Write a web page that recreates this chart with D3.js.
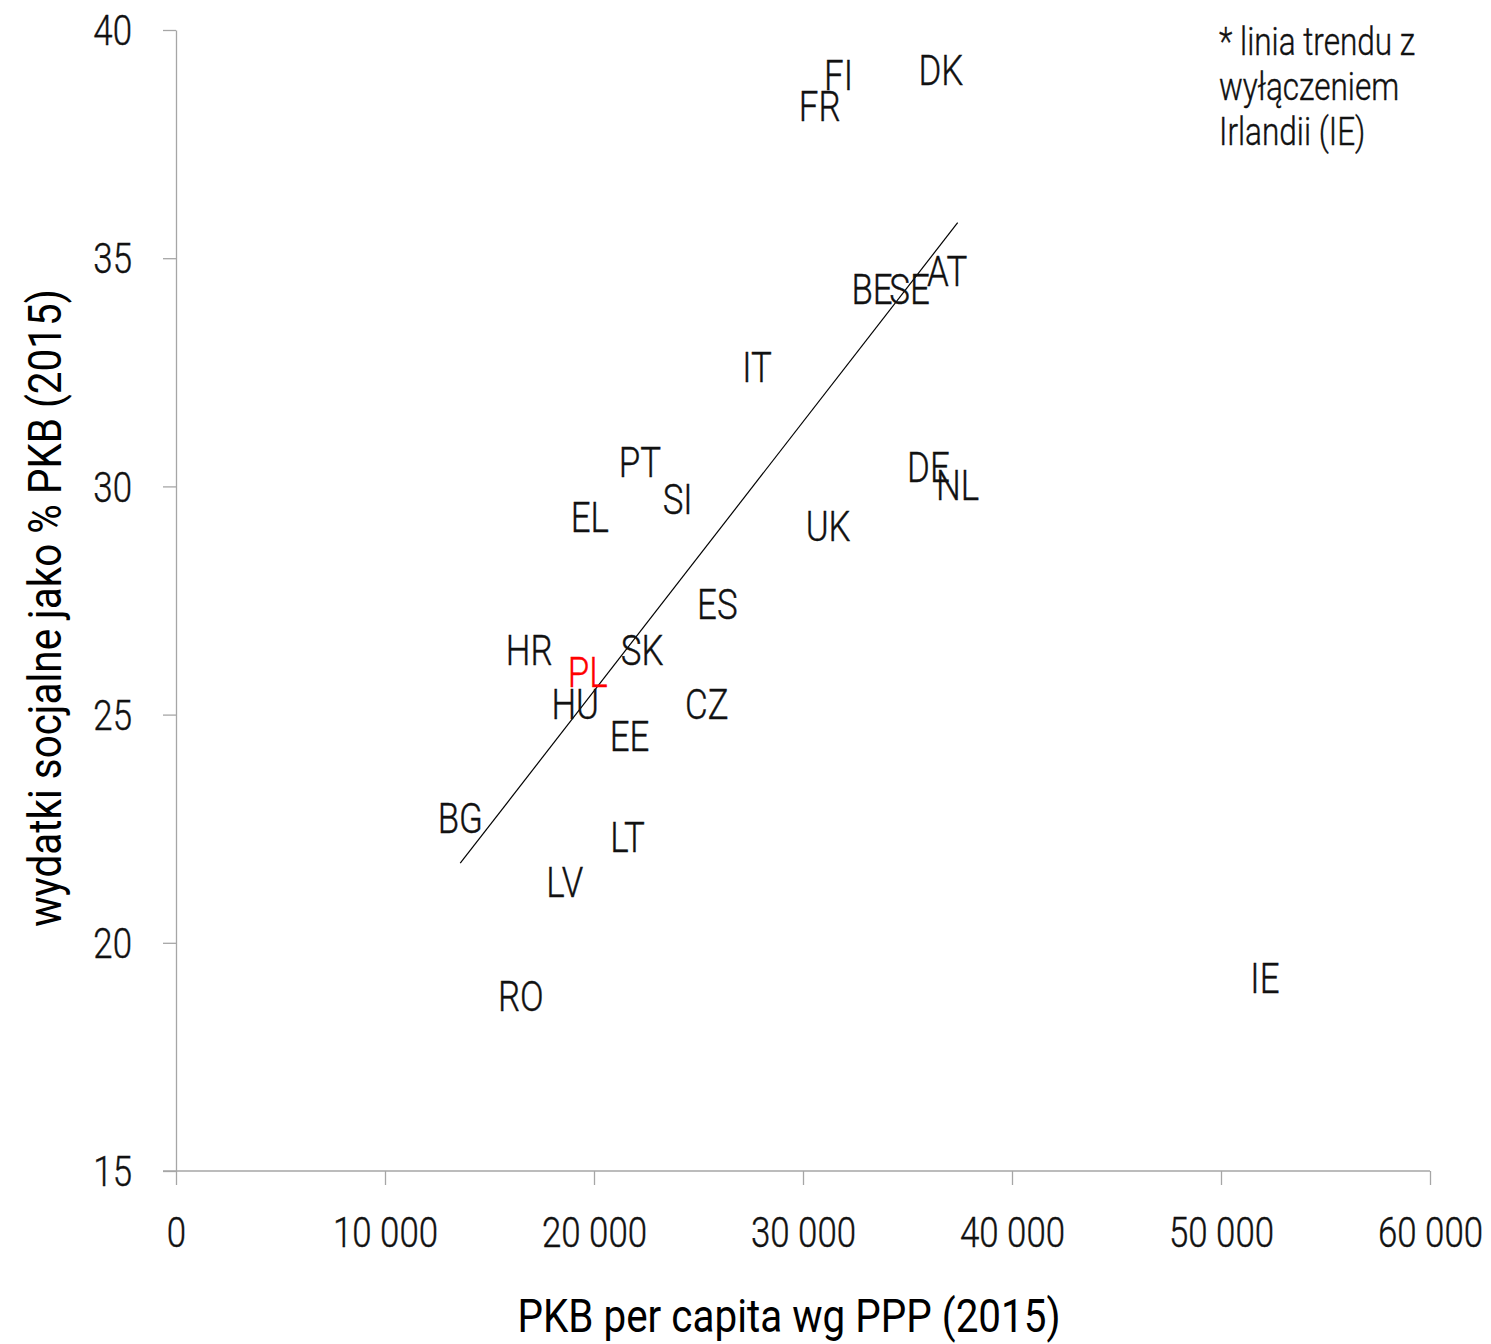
<!DOCTYPE html>
<html>
<head>
<meta charset="utf-8">
<script src="https://cdn.jsdelivr.net/npm/d3@7"></script>
<style>
  body { margin: 0; background: #fff; }
  text { font-family: "Roboto", sans-serif; }
  .light { font-weight: 300; stroke-width: 0.4px; }
</style>
</head>
<body>
<svg id="chart" width="1491" height="1344"></svg>
<script>
// country codes, GDP per capita PPP (2015), social spending % GDP (2015)
const countries = ["FI", "FR", "DK", "BE", "SE", "AT", "IT", "PT", "SI", "EL", "DE", "NL", "UK", "ES",
                   "HR", "PL", "SK", "HU", "CZ", "EE", "BG", "LT", "LV", "RO", "IE"];
const gdpPerCapita = [31700, 30800, 36600, 33300, 35100, 36900, 27800, 22200, 24000, 19800, 36000, 37400, 31200, 25900,
                      16900, 19700, 22300, 19100, 25400, 21700, 13600, 21600, 18600, 16500, 52100];
const socialSpending = [39.0, 38.3, 39.1, 34.3, 34.3, 34.7, 32.6, 30.5, 29.7, 29.3, 30.4, 30.0, 29.1, 27.4,
                        26.4, 25.9, 26.4, 25.2, 25.2, 24.5, 22.7, 22.3, 21.3, 18.8, 19.2];

const xTicks = [0, 10000, 20000, 30000, 40000, 50000, 60000];
const yTicks = [15, 20, 25, 30, 35, 40];
const trendExcluded = ["IE"];
const highlight = "PL";

const note = ["* linia trendu z", "wyłączeniem", "Irlandii (IE)"];
const xTitle = "PKB per capita wg PPP (2015)";
const yTitle = "wydatki socjalne jako % PKB (2015)";

const svg = d3.select("#chart");
const axisColor = "#a6a6a6";
// no condensed face installed, so squeeze Roboto sideways
const narrow = 0.83, narrowTitle = 0.86;

const x = d3.scaleLinear().domain([0, 60000]).range([176, 1430]);
const y = d3.scaleLinear().domain([15, 40]).range([1171, 30]);

const fmt = d => d3.format(",")(d).replace(/,/g, " ");

// y axis
const yAxis = svg.append("g")
    .attr("transform", `translate(${x(0)},0)`)
    .call(d3.axisLeft(y).tickValues(yTicks).tickSize(13).tickSizeOuter(0).tickPadding(44));
yAxis.select(".domain").attr("stroke", axisColor).attr("stroke-width", 1.3);
yAxis.selectAll(".tick line").attr("stroke", axisColor).attr("stroke-width", 1.3);
yAxis.selectAll(".tick text")
    .attr("class", "light")
    .attr("font-size", 42)
    .attr("fill", "#111")
    .attr("stroke", "#111")
    .attr("dy", "0.35em")
    .attr("x", -44 / narrow)
    .attr("transform", `scale(${narrow},1)`);

// x axis
const xAxis = svg.append("g")
    .attr("transform", `translate(0,${y(15)})`)
    .call(d3.axisBottom(x).tickValues(xTicks).tickFormat(fmt).tickSize(14).tickSizeOuter(0).tickPadding(32));
xAxis.select(".domain").attr("stroke", axisColor).attr("stroke-width", 1.3)
    .attr("d", `M${x(0) - 13},0H${x(60000)}`);
xAxis.selectAll(".tick line").attr("stroke", axisColor).attr("stroke-width", 1.3);
xAxis.selectAll(".tick text")
    .attr("class", "light")
    .attr("font-size", 42)
    .attr("fill", "#111")
    .attr("stroke", "#111")
    .attr("dy", "0.71em")
    .attr("transform", `scale(${narrow},1)`);

// trend line (least squares, without IE)
const pts = countries.map((c, i) => ({ c, gx: gdpPerCapita[i], sy: socialSpending[i] }));
const fitPts = pts.filter(p => !trendExcluded.includes(p.c));
const mx = d3.mean(fitPts, p => p.gx), my = d3.mean(fitPts, p => p.sy);
const slope = d3.sum(fitPts, p => (p.gx - mx) * (p.sy - my)) / d3.sum(fitPts, p => (p.gx - mx) ** 2);
const icpt = my - slope * mx;
const [x0, x1] = d3.extent(fitPts, p => p.gx);

svg.append("line")
    .attr("x1", x(x0)).attr("y1", y(icpt + slope * x0))
    .attr("x2", x(x1)).attr("y2", y(icpt + slope * x1))
    .attr("stroke", "#000")
    .attr("stroke-width", 1.2);

// country labels
svg.append("g").selectAll("text")
    .data(pts)
    .join("text")
    .attr("class", "light")
    .attr("transform", d => `translate(${x(d.gx)},${y(d.sy)}) scale(${narrow},1)`)
    .attr("dy", "0.33em")
    .attr("text-anchor", "middle")
    .attr("font-size", 42)
    .attr("fill", d => d.c === highlight ? "#ff0000" : "#111")
    .attr("stroke", d => d.c === highlight ? "#ff0000" : "#111")
    .text(d => d.c);

// note
svg.append("text")
    .attr("class", "light")
    .attr("transform", `translate(1219,55) scale(${narrow},1)`)
    .attr("font-size", 38)
    .attr("fill", "#111")
    .attr("stroke", "#111")
    .selectAll("tspan")
    .data(note)
    .join("tspan")
    .attr("x", 0)
    .attr("dy", (d, i) => i === 0 ? 0 : 45)
    .text(d => d);

// axis titles
svg.append("text")
    .attr("transform", `translate(${(x(0) + x(60000)) / 2 - 14},1332) scale(${narrowTitle},1)`)
    .attr("text-anchor", "middle")
    .attr("font-size", 47)
    .attr("fill", "#000")
    .text(xTitle);

svg.append("text")
    .attr("transform", `translate(61,608) rotate(-90) scale(${narrowTitle},1)`)
    .attr("text-anchor", "middle")
    .attr("font-size", 47)
    .attr("fill", "#000")
    .text(yTitle);
</script>
</body>
</html>
